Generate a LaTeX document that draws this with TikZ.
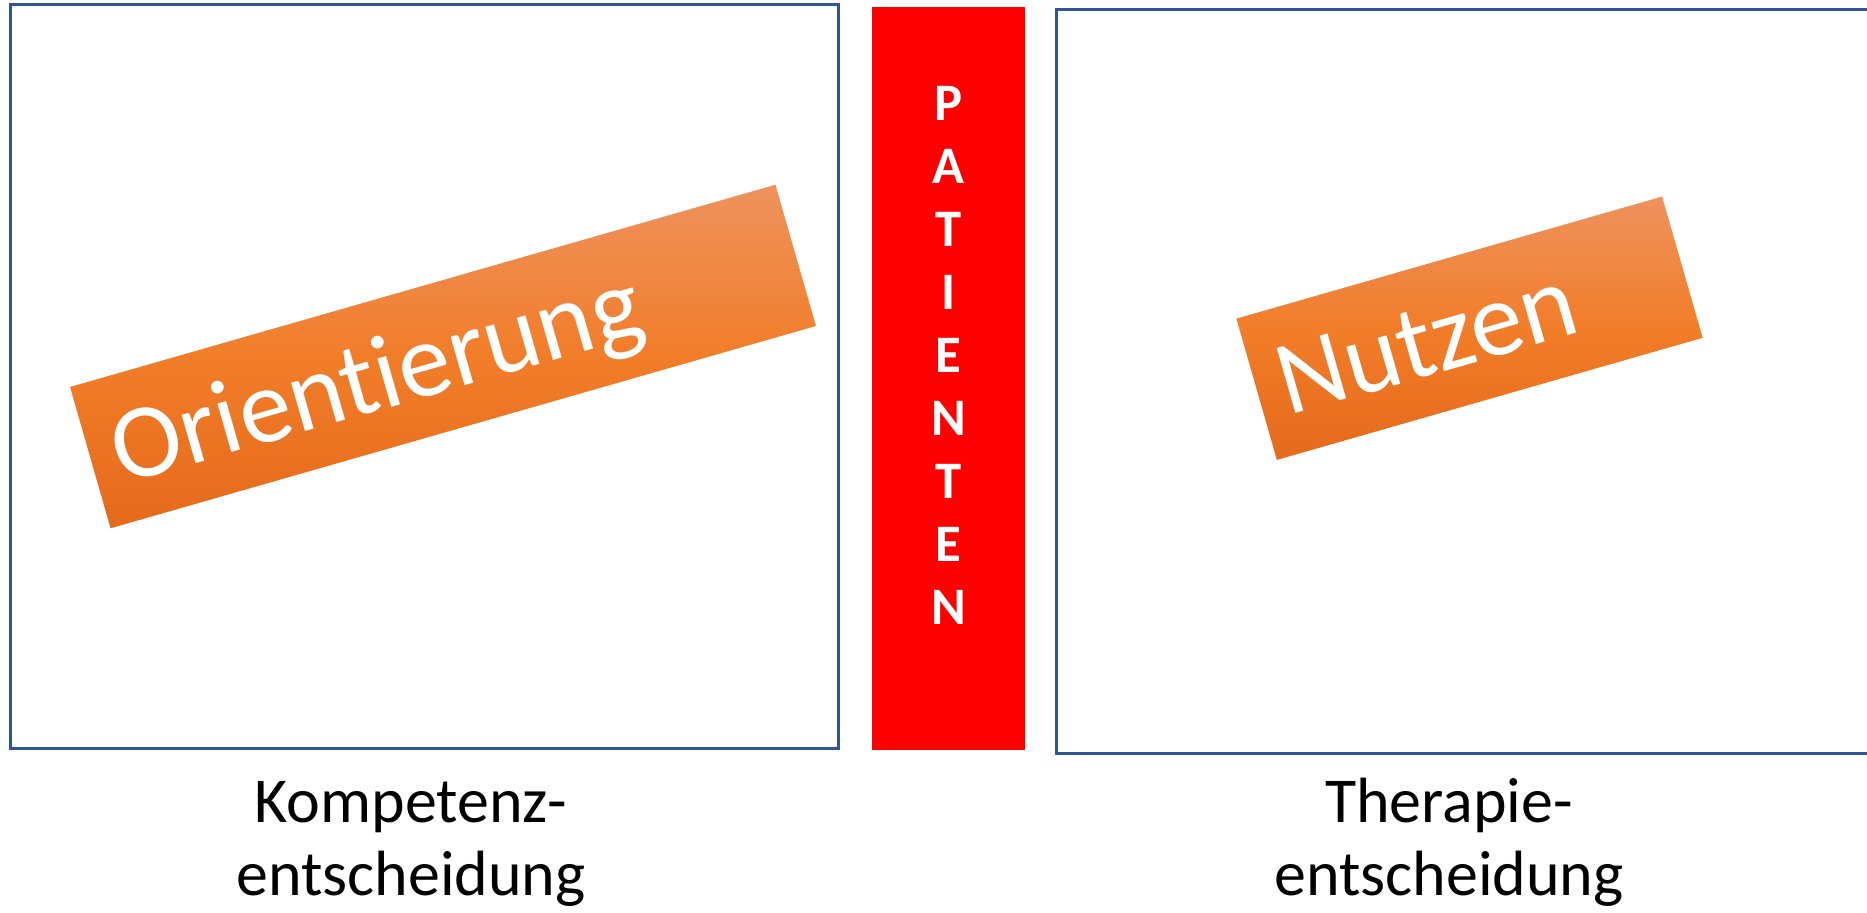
\documentclass[tikz,border=0pt]{standalone}
\usepackage{fontspec}
\setmainfont{Carlito}[Ligatures={NoCommon,NoContextual}]
\usetikzlibrary{positioning}
\definecolor{frameblue}{RGB}{47,85,151}
\definecolor{patred}{RGB}{255,0,0}
\definecolor{orangetop}{RGB}{239,146,94}
\definecolor{orangemid}{RGB}{241,125,41}
\definecolor{orangebot}{RGB}{229,106,28}

\begin{document}
\begin{tikzpicture}[x=0.02cm, y=0.02cm,
  panel/.style={draw=frameblue, line width=0.06cm, minimum height=14.88cm, inner sep=0pt},
  banner/.style={rotate=16, minimum height=2.94cm, inner xsep=0.47cm, inner ysep=0pt,
    text height=1.6cm, text depth=0.22cm, align=left, text=white,
    top color=orangetop, bottom color=orangebot, middle color=orangemid,
    font=\fontsize{60}{70}\selectfont},
  pattext/.style={align=center, text=white, inner sep=0pt,
    font=\bfseries\fontsize{30}{35.85}\selectfont},
  caption/.style={align=center, anchor=base, font=\fontsize{36.4}{42.1}\selectfont}
]
\useasboundingbox (0,0) rectangle (1867,913);

% two decision panels with the patient bar in between
\node[panel, minimum width=16.57cm] (kompbox) at (424.75,536.1) {};
\node[fill=patred, minimum width=3.06cm, minimum height=14.86cm, inner sep=0pt] (patbar) at (948.5,534.5) {};
\node[pattext] (patient) at (948.5,558) {P\\A\\T\\I\\E\\N\\T\\E\\N};
\node[panel, minimum width=16.88cm] (therbox) at (1478,531.75) {};

% tilted banners
\node[banner, text width=13.74cm] (orient) at (443,556.5) {Orientierung};
\node[banner, text width=7.92cm] (nutzen) at (1469.5,584.75) {Nutzen};

% captions under the panels (anchored on the last line)
\node[caption] (kompetenz) at (411,17) {Kompetenz-\\entscheidung};
\node[caption] (therapie) at (1449,17) {Therapie-\\entscheidung};
\end{tikzpicture}
\end{document}
